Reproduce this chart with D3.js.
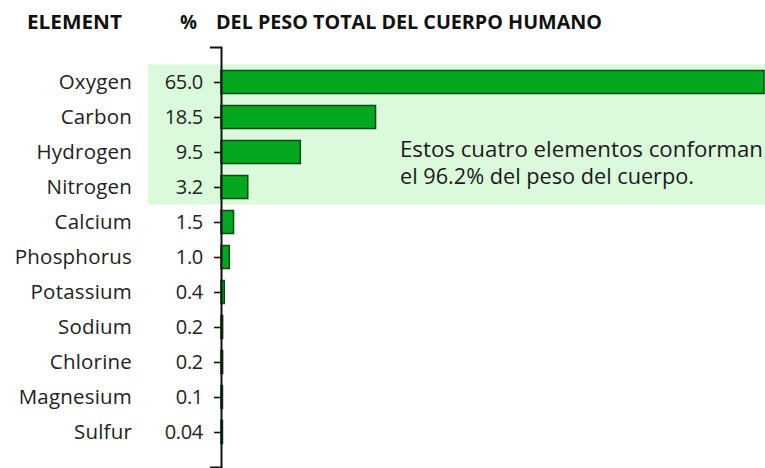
<!DOCTYPE html>
<html><head><meta charset="utf-8">
<script src="https://cdn.jsdelivr.net/npm/d3@7"></script>
<style>body{margin:0;background:#fff;}svg{display:block;}</style>
</head><body>
<svg id="c" width="765" height="468"></svg>
<script>
const elements = ["Oxygen","Carbon","Hydrogen","Nitrogen","Calcium","Phosphorus","Potassium","Sodium","Chlorine","Magnesium","Sulfur"];
const percents = [65.0,18.5,9.5,3.2,1.5,1.0,0.4,0.2,0.2,0.1,0.04];
const valueLabels = ["65.0","18.5","9.5","3.2","1.5","1.0","0.4","0.2","0.2","0.1","0.04"];
const highlighted = ["Oxygen","Carbon","Hydrogen","Nitrogen"];
const noteLines = ["Estos cuatro elementos conforman","el 96.2% del peso del cuerpo."];

const svg = d3.select("#c");
const font = "'Open Sans', sans-serif";
const x = d3.scaleLinear().domain([0,65]).range([221,764]);
const y = d3.scalePoint().domain(elements).range([47,467]).padding(1);
const step = y.step();

// highlight band
svg.append("rect")
  .attr("x",148).attr("width",765-148)
  .attr("y", y(highlighted[0]) - step/2)
  .attr("height", y(highlighted[highlighted.length-1]) - y(highlighted[0]) + step)
  .attr("fill","#dbfadb");

// bars
const barH = 23;
svg.selectAll("rect.bar").data(elements).join("rect").attr("class","bar")
  .attr("x", x(0))
  .attr("y", d => y(d) - barH/2)
  .attr("width", (d,i) => Math.max(x(percents[i]) - x(0), 1.5))
  .attr("height", barH)
  .attr("fill","#03a81f")
  .attr("stroke","#0b4a12")
  .attr("stroke-width",1.5);

// axis
const axis = d3.axisLeft(y).tickSize(7).tickSizeOuter(11).tickFormat((d,i)=>valueLabels[i]).tickPadding(11);
const g = svg.append("g").attr("transform","translate(221,0)").call(axis);
g.attr("font-size",null).attr("font-family",null);
g.select(".domain").attr("stroke","#111").attr("stroke-width",2);
g.selectAll(".tick line").attr("stroke","#111").attr("stroke-width",1.6);
g.selectAll(".tick text").attr("font-family",font).attr("font-size",20).attr("fill","#222")
  .attr("letter-spacing",-0.3).attr("dy",null).attr("y",6);

// element labels
svg.selectAll("text.el").data(elements).join("text").attr("class","el")
  .attr("x",132).attr("y",d=>y(d)+6.5)
  .attr("text-anchor","end")
  .attr("font-family",font).attr("font-size",20.5).attr("fill","#222")
  .attr("letter-spacing",0.2)
  .text(d=>d);

// headers
svg.append("text").attr("x",27).attr("y",29).attr("font-family",font).attr("font-weight","bold")
  .attr("font-size",20).attr("fill","#111")
  .attr("textLength",95).attr("lengthAdjust","spacingAndGlyphs").text("ELEMENT");
svg.append("text").attr("x",180).attr("y",29).attr("font-family",font).attr("font-weight","bold")
  .attr("font-size",19).attr("fill","#111")
  .attr("textLength",17).attr("lengthAdjust","spacingAndGlyphs").text("%");
svg.append("text").attr("x",216).attr("y",29).attr("font-family",font).attr("font-weight","bold")
  .attr("font-size",20).attr("fill","#111")
  .attr("textLength",386).attr("lengthAdjust","spacingAndGlyphs")
  .text("DEL PESO TOTAL DEL CUERPO HUMANO");

// note
const noteLens = [363, 294];
svg.append("g").selectAll("text").data(noteLines).join("text")
  .attr("x",400).attr("y",(d,i)=>157+i*26.5)
  .attr("font-family",font).attr("font-size",21.5).attr("fill","#1a1a1a")
  .attr("textLength",(d,i)=>noteLens[i]).attr("lengthAdjust","spacingAndGlyphs")
  .text(d=>d);
</script>
</body></html>
